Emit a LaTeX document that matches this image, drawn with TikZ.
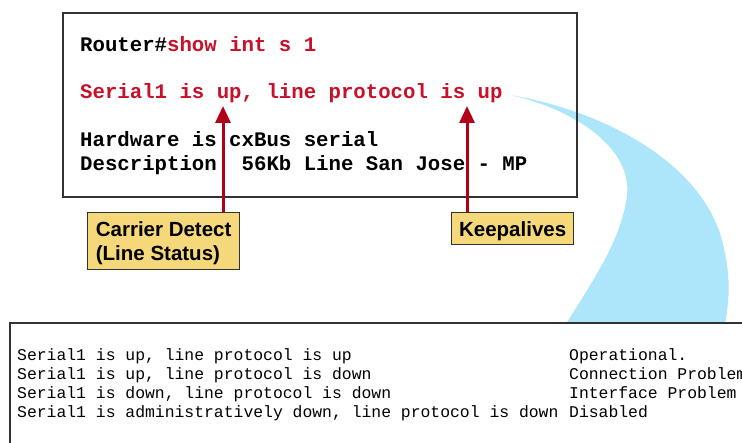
\documentclass[tikz,border=0pt]{standalone}
\usepackage{fontspec}
\setmainfont{Liberation Sans}
\newfontfamily\monofnt{Liberation Mono}
\usetikzlibrary{arrows.meta}
\definecolor{cisred}{RGB}{200,16,40}
\definecolor{arrred}{RGB}{178,0,24}
\definecolor{boxgold}{RGB}{245,216,122}
\definecolor{flowblue}{RGB}{173,229,250}
\definecolor{frame}{RGB}{50,50,50}
\tikzset{
  termtop/.style={anchor=base west, inner sep=0pt, font=\monofnt\bfseries\fontsize{20.7}{24}\selectfont},
  termbot/.style={anchor=base west, inner sep=0pt, font=\monofnt\fontsize{16.4}{19}\selectfont},
  labelbox/.style={draw=frame, line width=1.3pt, fill=boxgold, inner sep=0pt, text depth=0pt,
     font=\bfseries\fontsize{20.5}{24}\selectfont},
  redarrow/.style={draw=arrred, line width=3pt, -{Triangle[length=17pt,width=15pt]}},
  frameline/.style={draw=frame, line width=1.6pt}
}
\begin{document}
\begin{tikzpicture}[x=1pt,y=-1pt]
\useasboundingbox (0,0) rectangle (742,443);
\clip (0,0) rectangle (742,443);
% blue flow
\fill[flowblue] (510,95) .. controls (600,110) and (700,160) .. (722,240)
   .. controls (732,280) and (729,300) .. (725,324) -- (566,324)
   .. controls (590,285) and (622,240) .. (627,195)
   .. controls (632,150) and (578,110) .. (510,95) -- cycle;
% top box
\node[frameline, minimum width=514pt, minimum height=184pt, anchor=north west, inner sep=0pt] (top) at (62,12) {};
\node[termtop] (l1) at (80,52) {Router\#\textcolor{cisred}{show int s 1}};
\node[termtop, text=cisred] (l2) at (80,99) {Serial1 is up, line protocol is up};
\node[termtop] (l3) at (80,147) {Hardware is cxBus serial};
\node[termtop] (l4) at (80,171) {Description\ \ 56Kb Line San Jose - MP};
% label boxes
\node[labelbox, minimum width=152pt, minimum height=57pt, anchor=north west, align=left] (cd) at (87,212) {Carrier Detect\\(Line Status)};
\node[labelbox, minimum width=122pt, minimum height=32pt, anchor=north west] (ka) at (451,212) {Keepalives};
\coordinate (t1) at (223,106);
\coordinate (t2) at (467,106);
\draw[redarrow] (cd.north -| t1) -- (t1);
\draw[redarrow] (ka.north -| t2) -- (t2);
% bottom box
\node[frameline, fill=white, minimum width=760pt, minimum height=160pt, anchor=north west, inner sep=0pt] (bot) at (9,322) {};
\node[termbot] (b1) at (17,361) {Serial1 is up, line protocol is up};
\node[termbot] (b2) at (17,380) {Serial1 is up, line protocol is down};
\node[termbot] (b3) at (17,399) {Serial1 is down, line protocol is down};
\node[termbot] (b4) at (17,418) {Serial1 is administratively down, line protocol is down};
\node[termbot] (r1) at (569,361) {Operational.};
\node[termbot] (r2) at (569,380) {Connection Problem};
\node[termbot] (r3) at (569,399) {Interface Problem};
\node[termbot] (r4) at (569,418) {Disabled};
\end{tikzpicture}
\end{document}
